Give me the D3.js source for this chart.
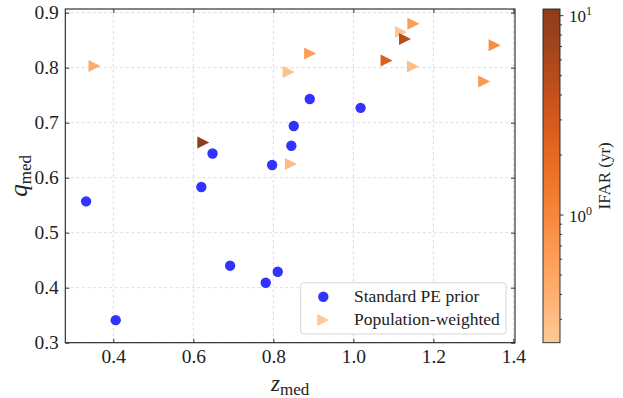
<!DOCTYPE html>
<html lang="en">
  <head>
    <meta charset="utf-8" />
    <title>q vs z</title>
    <script src="https://d3js.org/d3.v7.min.js"></script>
    <style>
      body { margin: 0; background: #fff; }
      text { font-family: "Liberation Serif", "DejaVu Serif", serif; fill: #222; }
    </style>
  </head>
  <body>
    <div id="container"></div>
    <script>
      // standard PE prior medians
      var zStd = [0.332, 0.406, 0.620, 0.648, 0.692, 0.781, 0.811, 0.797, 0.845, 0.851, 0.891, 1.018];
      var qStd = [0.557, 0.341, 0.583, 0.644, 0.440, 0.409, 0.429, 0.623, 0.658, 0.694, 0.743, 0.727];

      // population-weighted medians, coloured by IFAR
      var zPop = [0.353, 0.625, 0.838, 0.892, 0.844, 1.150, 1.119, 1.129, 1.083, 1.149, 1.353, 1.327];
      var qPop = [0.803, 0.664, 0.792, 0.826, 0.625, 0.880, 0.865, 0.852, 0.813, 0.802, 0.841, 0.775];
      var ifarPop = [0.44, 10, 0.26, 0.62, 0.30, 0.6, 0.24, 4.7, 2.4, 0.28, 0.9, 0.7];

      var xTicks = [0.4, 0.6, 0.8, 1.0, 1.2, 1.4];
      var yTicks = [0.3, 0.4, 0.5, 0.6, 0.7, 0.8, 0.9];
      var cbMajor = [1, 10];
      var cbMinor = [0.3, 0.4, 0.5, 0.6, 0.7, 0.8, 0.9, 2, 3, 4, 5, 6, 7, 8, 9];
      var legendLabels = ["Standard PE prior", "Population-weighted"];

      var width = 623;
      var height = 398;
      // plot box (window.top is read-only, so no bare "top")
      var pL = 65.3, pR = 515, pT = 9, pB = 342.7;

      var svg = d3.select("#container")
        .append("svg")
        .attr("width", width)
        .attr("height", height);

      var x = d3.scaleLinear().domain([0.28, 1.404]).range([pL, pR]);
      var y = d3.scaleLinear().domain([0.3, 0.9067]).range([pB, pT]);
      var c = d3.scaleLog().domain([0.229, 10.8]).range([pB, pT]);

      function ifarColor(v) {
        var frac = (Math.log10(v) - Math.log10(0.229)) / (Math.log10(10.8) - Math.log10(0.229));
        frac = Math.max(0, Math.min(1, frac));
        return d3.interpolateOranges(0.3 + 0.7 * frac);
      }

      // grid
      var grid = svg.append("g")
        .attr("stroke", "#d4d4d4")
        .attr("stroke-width", 0.8)
        .attr("stroke-dasharray", "3,2.5");
      grid.selectAll(".gx").data(xTicks).enter().append("line")
        .attr("x1", d => x(d)).attr("x2", d => x(d))
        .attr("y1", pT).attr("y2", pB);
      grid.selectAll(".gy").data(yTicks).enter().append("line")
        .attr("x1", pL).attr("x2", pR)
        .attr("y1", d => y(d)).attr("y2", d => y(d));

      // axes with inward ticks on all sides
      function styleAxis(g) {
        g.select(".domain").remove();
        g.selectAll(".tick line").attr("stroke", "#222").attr("stroke-width", 0.9);
        g.selectAll(".tick text")
          .style("font-family", "'Liberation Serif', serif")
          .style("font-size", "19.5px")
          .attr("fill", "#222");
      }
      svg.append("g")
        .attr("transform", "translate(0," + pB + ")")
        .call(d3.axisBottom(x).tickValues(xTicks).tickFormat(d3.format(".1f")).tickSizeInner(-4).tickPadding(6))
        .call(styleAxis);
      svg.append("g")
        .attr("transform", "translate(" + pL + ",0)")
        .call(d3.axisLeft(y).tickValues(yTicks).tickFormat(d3.format(".1f")).tickSizeInner(-4).tickPadding(6.5))
        .call(styleAxis);
      svg.append("g")
        .attr("transform", "translate(0," + pT + ")")
        .call(d3.axisTop(x).tickValues(xTicks).tickFormat("").tickSizeInner(-4))
        .call(styleAxis);
      svg.append("g")
        .attr("transform", "translate(" + pR + ",0)")
        .call(d3.axisRight(y).tickValues(yTicks).tickFormat("").tickSizeInner(-4))
        .call(styleAxis);

      svg.append("rect")
        .attr("x", pL).attr("y", pT)
        .attr("width", pR - pL).attr("height", pB - pT)
        .attr("fill", "none").attr("stroke", "#222").attr("stroke-width", 1.1);

      // standard PE points
      svg.append("g").selectAll("circle")
        .data(zStd.map((z, i) => [z, qStd[i]]))
        .enter().append("circle")
        .attr("cx", d => x(d[0]))
        .attr("cy", d => y(d[1]))
        .attr("r", 5.2)
        .attr("fill", "blue")
        .attr("fill-opacity", 0.8);

      // population-weighted points
      var s = 6;
      function tri(cx, cy) {
        return "M" + (cx + s) + "," + cy + "L" + (cx - s) + "," + (cy - s) + "L" + (cx - s) + "," + (cy + s) + "Z";
      }
      svg.append("g").selectAll("path")
        .data(zPop.map((z, i) => [z, qPop[i], ifarPop[i]]))
        .enter().append("path")
        .attr("d", d => tri(x(d[0]), y(d[1])))
        .attr("fill", d => ifarColor(d[2]))
        .attr("fill-opacity", 0.9);

      // legend
      var lg = svg.append("g");
      lg.append("rect")
        .attr("x", 300.7).attr("y", 282.7)
        .attr("width", 205.3).attr("height", 51.3)
        .attr("rx", 3)
        .attr("fill", "#fff").attr("fill-opacity", 0.8)
        .attr("stroke", "#d6d6d6").attr("stroke-width", 1);
      lg.append("circle")
        .attr("cx", 323.3).attr("cy", 296.7).attr("r", 5.2)
        .attr("fill", "blue").attr("fill-opacity", 0.8);
      lg.append("path")
        .attr("d", tri(323.3, 320))
        .attr("fill", ifarColor(0.229)).attr("fill-opacity", 0.9);
      lg.selectAll(".lt").data(legendLabels).enter().append("text")
        .attr("x", 354)
        .attr("y", (d, i) => 301.5 + i * 23.3)
        .style("font-size", "17.5px")
        .text(d => d);

      // axis labels
      var xl = svg.append("text")
        .attr("x", (pL + pR) / 2).attr("y", 391)
        .attr("text-anchor", "middle");
      xl.append("tspan").style("font-style", "italic").style("font-size", "23px").text("z");
      xl.append("tspan").attr("dy", 4).style("font-size", "17px").text("med");

      var yl = svg.append("text")
        .attr("transform", "translate(27," + (pT + pB) / 2 + ") rotate(-90)")
        .attr("text-anchor", "middle");
      yl.append("tspan").style("font-style", "italic").style("font-size", "25px").text("q");
      yl.append("tspan").attr("dy", 4).style("font-size", "17px").text("med");

      // colorbar
      var cbx = 543, cbw = 17;
      var defs = svg.append("defs");
      var grad = defs.append("linearGradient")
        .attr("id", "cbgrad")
        .attr("x1", "0%").attr("y1", "100%")
        .attr("x2", "0%").attr("y2", "0%");
      d3.range(0, 1.0001, 0.05).forEach(function (f) {
        grad.append("stop")
          .attr("offset", (f * 100) + "%")
          .attr("stop-color", d3.interpolateOranges(0.3 + 0.7 * f))
          .attr("stop-opacity", 0.9);
      });
      svg.append("rect")
        .attr("x", cbx).attr("y", pT)
        .attr("width", cbw).attr("height", pB - pT)
        .attr("fill", "url(#cbgrad)")
        .attr("stroke", "#222").attr("stroke-width", 0.9);

      var cb = svg.append("g").attr("stroke", "#222").attr("stroke-width", 0.9);
      cb.selectAll(".mj").data(cbMajor).enter().append("line")
        .attr("x1", cbx + cbw).attr("x2", cbx + cbw + 3.5)
        .attr("y1", d => c(d)).attr("y2", d => c(d));
      cb.selectAll(".mn").data(cbMinor).enter().append("line")
        .attr("x1", cbx + cbw).attr("x2", cbx + cbw + 2)
        .attr("y1", d => c(d)).attr("y2", d => c(d));

      var cbl = svg.append("g").selectAll("text").data(cbMajor).enter().append("text")
        .attr("x", 569)
        .attr("y", d => c(d) + 6.5)
        .style("font-size", "17px");
      cbl.append("tspan").text("10");
      cbl.append("tspan").attr("dy", -7).style("font-size", "12px")
        .text(d => String(Math.round(Math.log10(d))));

      svg.append("text")
        .attr("transform", "translate(610," + (pT + pB) / 2 + ") rotate(-90)")
        .attr("text-anchor", "middle")
        .style("font-size", "17px")
        .text("IFAR (yr)");
    </script>
  </body>
</html>
